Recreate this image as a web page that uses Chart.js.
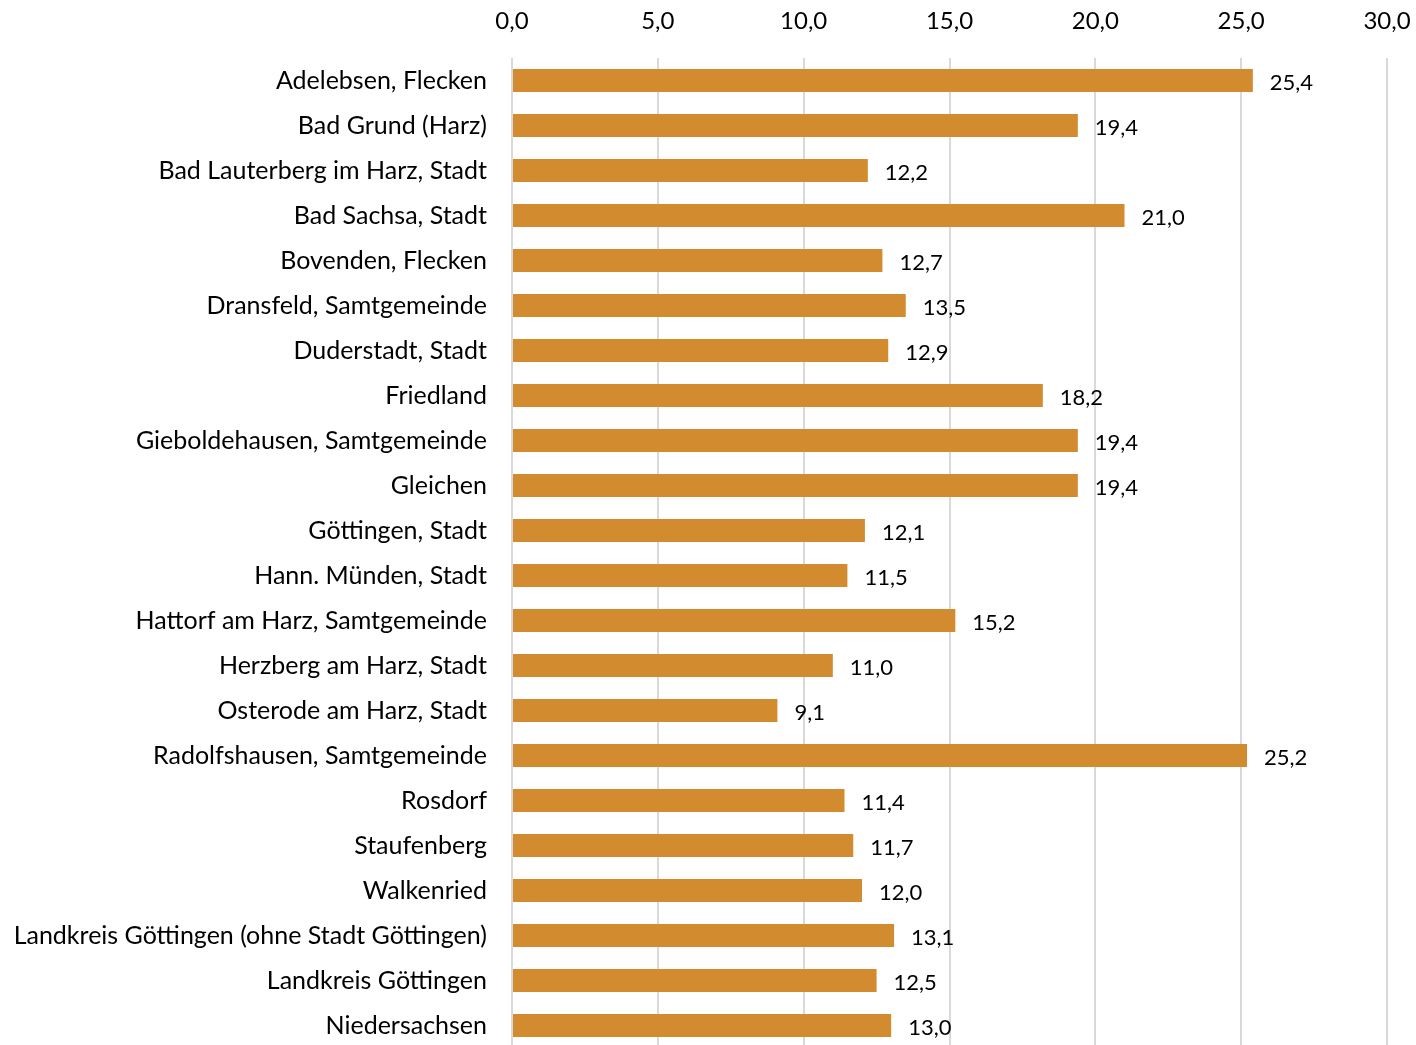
<!DOCTYPE html>
<html>
<head>
<meta charset="utf-8">
<script src="https://cdn.jsdelivr.net/npm/chart.js@4"></script>
<style>
  html, body { margin: 0; padding: 0; background: #fff; overflow: hidden; }
  canvas { display: block; }
</style>
</head>
<body>
<canvas id="chart" width="1416" height="1048"></canvas>
<script>
// Categories and values
const categories = [
  "Adelebsen, Flecken",
  "Bad Grund (Harz)",
  "Bad Lauterberg im Harz, Stadt",
  "Bad Sachsa, Stadt",
  "Bovenden, Flecken",
  "Dransfeld, Samtgemeinde",
  "Duderstadt, Stadt",
  "Friedland",
  "Gieboldehausen, Samtgemeinde",
  "Gleichen",
  "Göttingen, Stadt",
  "Hann. Münden, Stadt",
  "Hattorf am Harz, Samtgemeinde",
  "Herzberg am Harz, Stadt",
  "Osterode am Harz, Stadt",
  "Radolfshausen, Samtgemeinde",
  "Rosdorf",
  "Staufenberg",
  "Walkenried",
  "Landkreis Göttingen (ohne Stadt Göttingen)",
  "Landkreis Göttingen",
  "Niedersachsen"
]
const values = [25.4, 19.4, 12.2, 21.0, 12.7, 13.5, 12.9, 18.2, 19.4, 19.4, 12.1, 11.5, 15.2, 11.0, 9.1, 25.2, 11.4, 11.7, 12.0, 13.1, 12.5, 13.0]
const tickMin = 0
const tickMax = 30
const tickStep = 5

const fontFamily = "Lato, 'Open Sans', sans-serif"
const fmt = (v) => v.toFixed(1).replace(".", ",")

// Value labels to the right of each bar
const valueLabels = {
  id: "valueLabels",
  afterDatasetsDraw(chart) {
    const ctx = chart.ctx
    const meta = chart.getDatasetMeta(0)
    ctx.save()
    ctx.font = "22px " + fontFamily
    ctx.fillStyle = "#000"
    ctx.textAlign = "left"
    ctx.textBaseline = "middle"
    meta.data.forEach((bar, i) => {
      ctx.fillText(fmt(values[i]), bar.x + 17, bar.y + 2)
    })
    ctx.restore()
  },
}

new Chart(document.getElementById("chart"), {
  type: "bar",
  data: {
    labels: categories,
    datasets: [
      {
        data: values,
        backgroundColor: "#D38B2F",
        borderWidth: 0,
        barPercentage: 0.51,
        categoryPercentage: 1.0,
      },
    ],
  },
  options: {
    indexAxis: "y",
    responsive: false,
    animation: false,
    layout: { padding: { left: 0, right: 29, top: 0, bottom: 0 } },
    plugins: {
      legend: { display: false },
      tooltip: { enabled: false },
    },
    scales: {
      x: {
        position: "top",
        min: tickMin,
        max: tickMax,
        ticks: {
          stepSize: tickStep,
          color: "#000",
          font: { family: fontFamily, size: 24 },
          padding: 22,
          callback: (v) => fmt(v),
        },
        grid: { color: "#D9D9D9", lineWidth: 2, drawTicks: false },
        border: { display: false },
        afterFit: (scale) => {
          scale.height = 58
          scale.paddingLeft = 0
          scale.paddingRight = 0
        },
      },
      y: {
        ticks: {
          color: "#000",
          font: { family: fontFamily, size: 25 },
          padding: 25,
        },
        grid: { display: false, drawTicks: false },
        border: { display: false },
        afterFit: (scale) => {
          scale.width = 512
          scale.paddingTop = 0
          scale.paddingBottom = 0
        },
      },
    },
  },
  plugins: [valueLabels],
})
</script>
</body>
</html>
